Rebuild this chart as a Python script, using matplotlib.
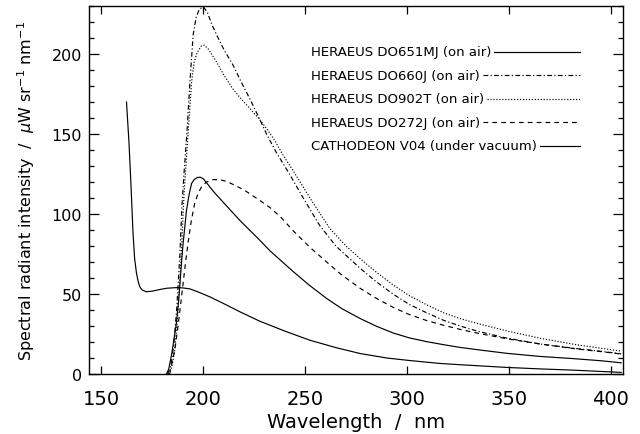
import numpy as np
import matplotlib
matplotlib.use("Agg")
import matplotlib.pyplot as plt
from matplotlib.ticker import MultipleLocator

plt.rcParams['font.family'] = ['DejaVu Sans']
plt.rcParams['mathtext.fontset'] = 'dejavusans'

# HERAEUS DO651MJ (on air) - solid
wl_651 = [181.9, 183, 184.4, 185.5, 186.8, 187.8, 188.5, 189.3, 190.1, 191, 191.7, 193, 194.2,
          195.5, 197, 198.5, 200, 201.6, 205, 210, 217.9, 227.7, 232.7, 244.1, 252, 260.5, 268,
          276.9, 285, 293.2, 301, 309.6, 318, 326, 335, 349, 365, 381.6, 395, 405]
int_651 = [0, 3, 12, 21, 32, 45, 56, 70, 82, 93, 102, 112, 119,
           121.5, 122.8, 123, 122, 119.5, 114, 107, 96, 83.6, 77, 64, 55.5, 47.2, 40.8,
           34.7, 29.8, 25.6, 22.6, 20.2, 18.3, 16.6, 15.1, 12.9, 11, 9.6, 8.3, 7]

# HERAEUS DO660J (on air) - dash-dot
wl_660 = [182.5, 184, 185.5, 187, 188.5, 189.5, 190.5, 192, 193.4, 195, 196.5, 198, 200, 202,
          204, 206.5, 210, 214.6, 218, 222.8, 227, 231, 236, 241.8, 249, 257, 265, 277, 285,
          293, 301, 310, 318, 326, 335, 349, 365, 381.6, 395, 405]
int_660 = [0, 5, 18, 42, 75, 105, 125, 152, 182, 212, 223, 228, 229.5, 226,
           219, 212, 203, 193, 184, 172, 161, 150, 138, 126, 110, 93, 80, 66, 57.5,
           50, 43.5, 38, 33.5, 30, 26.6, 22.4, 18.8, 16.1, 14.2, 12.6]

# HERAEUS DO902T (on air) - dotted
wl_902 = [183, 184.5, 186, 187.5, 189, 190.5, 192.5, 194.2, 195.5, 197, 199, 200.5, 202.5,
          206.5, 210, 214.6, 218.5, 222.8, 227, 231, 235, 239, 244.6, 252.3, 262, 270, 277,
          285, 293, 301, 310, 318, 326, 335, 349, 365, 381.6, 395, 405]
int_902 = [0, 4, 15, 38, 70, 112, 150, 182, 195, 201, 205, 205.5, 203,
           195, 187, 178, 172, 166, 160, 153.5, 146, 137, 126, 110, 91, 80, 72,
           63.5, 55.8, 49, 43, 38.2, 34.6, 31.4, 26.9, 22.4, 18.6, 16.1, 14.3]

# HERAEUS DO272J (on air) - dashed
wl_272 = [183.5, 184.4, 186, 187.6, 189, 190.1, 191.3, 192.5, 194, 195.8, 197.5, 199.1, 201.5,
          204.8, 208, 211, 214.6, 220, 227.7, 232.7, 238, 244.1, 252, 260.5, 268, 276.9, 285,
          293.2, 301, 309.6, 318, 326, 335, 349, 365, 381.6, 395, 405]
int_272 = [0, 6, 15, 30, 45, 57, 70, 82, 95, 107, 113, 117, 120,
           121.5, 121.5, 120.5, 118.5, 115, 108.5, 104, 98, 89.5, 79.5, 70, 61.8, 53.6, 47.2,
           41.6, 37.2, 33.4, 30.4, 27.9, 25.4, 22, 18.8, 15.9, 14, 12.5]

# CATHODEON V04 (under vacuum) - solid
wl_v04 = [162.3, 163.5, 164.5, 165.5, 166.3, 167.2, 168, 168.8, 170, 172, 175, 178.6, 182,
          186.8, 190, 193.4, 198, 203.2, 210, 217.9, 227.7, 232.7, 240, 252.3, 265, 276.9,
          290, 301.4, 316, 326, 349, 365, 381.5, 395, 405]
int_v04 = [170, 145, 118, 88, 72, 63, 58, 54.5, 52.5, 51.4, 51.8, 52.8, 53.6,
           54, 53.8, 53.2, 51, 48.2, 44, 38.9, 33, 30.5, 26.8, 21.1, 16.5, 12.8,
           10, 8.4, 6.6, 5.8, 4.1, 3.2, 2.4, 1.6, 1]

labels = ['HERAEUS DO651MJ (on air)', 'HERAEUS DO660J (on air)', 'HERAEUS DO902T (on air)',
          'HERAEUS DO272J (on air)', 'CATHODEON V04 (under vacuum)']
series = [(wl_651, int_651), (wl_660, int_660), (wl_902, int_902),
          (wl_272, int_272), (wl_v04, int_v04)]
styles = ['-', (0, (4, 2, 1, 2)), (0, (1, 1.5)), (0, (4, 3.5)), '-']

fig = plt.figure(figsize=(6.4, 4.35), dpi=100)
ax = fig.add_axes([89 / 640, 1 - 375 / 435, 534 / 640, 368 / 435])

for (wl, val), ls in zip(series, styles):
    ax.plot(wl, val, color='black', linestyle=ls, linewidth=0.85)

ax.set_xlim(143.9, 405.9)
ax.set_ylim(0, 230)
ax.xaxis.set_major_locator(MultipleLocator(50))
ax.yaxis.set_major_locator(MultipleLocator(50))
ax.yaxis.set_minor_locator(MultipleLocator(10))
ax.tick_params(which='both', direction='in', top=True, right=True, width=0.9)
ax.tick_params(axis='x', which='major', length=5.8, pad=10.5, labelsize=14)
ax.tick_params(axis='y', which='major', length=7, pad=5, labelsize=11.5)
ax.tick_params(axis='y', which='minor', length=3.6)
for sp in ax.spines.values():
    sp.set_linewidth(1.0)

ax.set_xlabel('Wavelength  /  nm', fontsize=14)
ax.xaxis.set_label_coords(0.5, -0.103)
ax.set_ylabel(r'Spectral radiant intensity  /  $\mu$W sr$^{-1}$ nm$^{-1}$', fontsize=11.5)
ax.yaxis.set_label_coords(-0.097, 0.5)

# legend drawn IDL-style: text first, sample line after it
fig.canvas.draw()
inv = ax.transAxes.inverted()
x_text = (311 - 89) / 534
x_end = (580 - 89) / 534
for i, (lab, ls) in enumerate(zip(labels, styles)):
    y = (375 - (52.5 + 23.6 * i)) / 368
    t = ax.text(x_text, y, lab, transform=ax.transAxes, fontsize=9.5, va='center', ha='left')
    bb = t.get_window_extent(renderer=fig.canvas.get_renderer())
    x0 = inv.transform((bb.x1 + 3, 0))[0]
    ax.plot([x0, x_end], [y, y], transform=ax.transAxes, color='black',
            linestyle=ls, linewidth=0.85)

fig.savefig('out.png', dpi=100)
